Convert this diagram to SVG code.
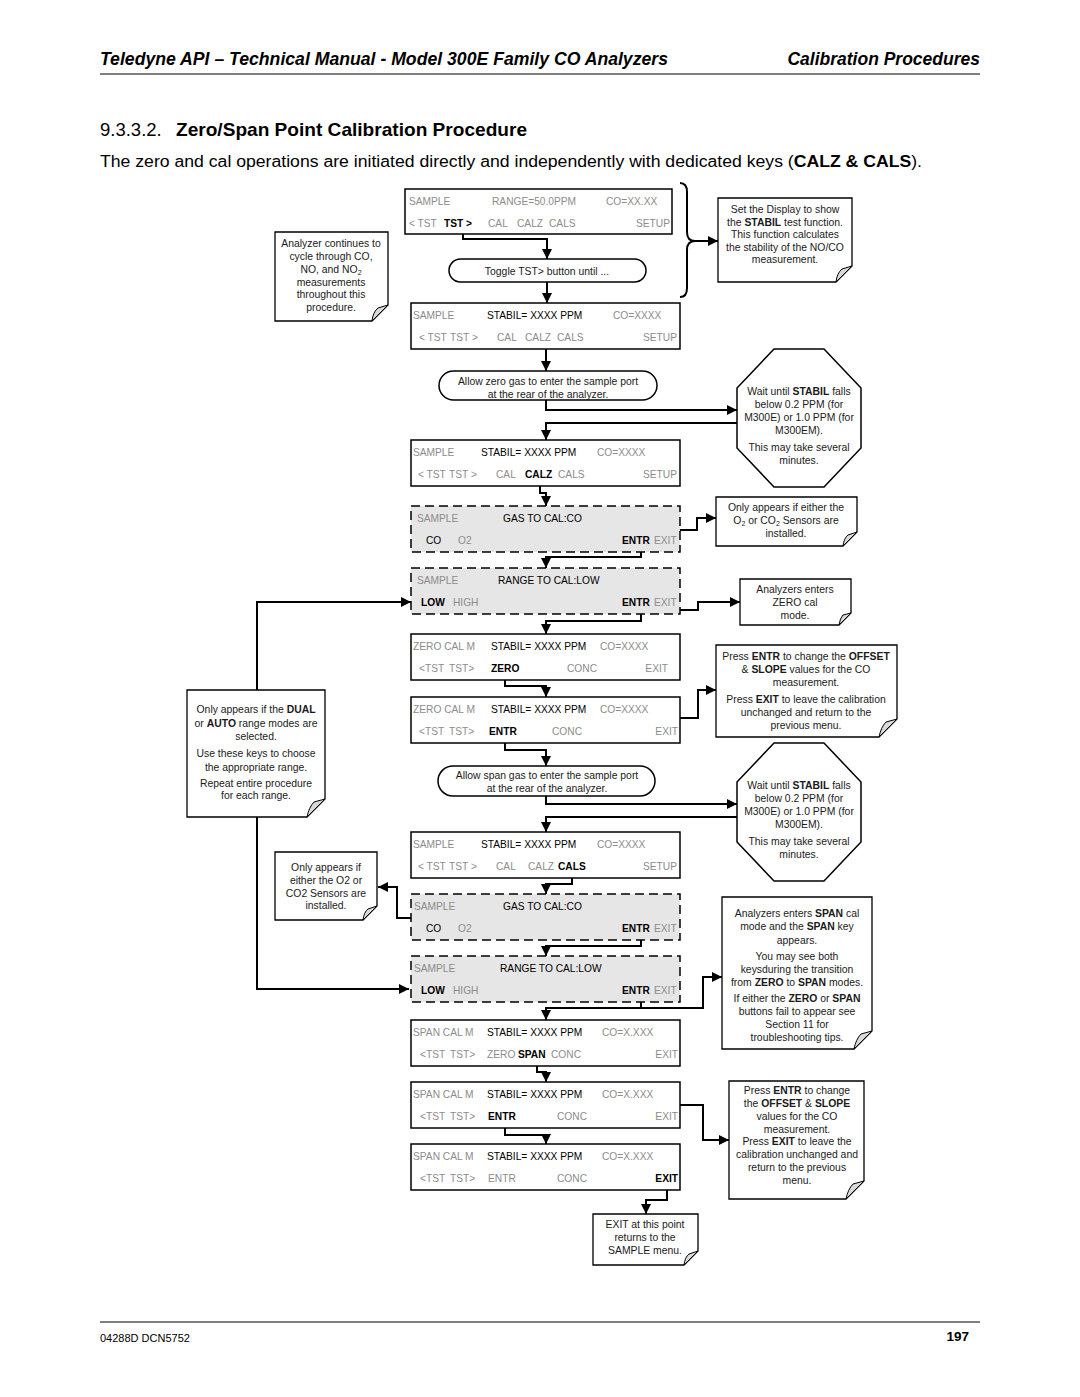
<svg xmlns="http://www.w3.org/2000/svg" width="1080" height="1397" viewBox="0 0 1080 1397">
<style>
text{font-family:"Liberation Sans",Arial,sans-serif;fill:#000}
.d{font-size:10.2px}
.g{fill:#8c8c8c}
.b{font-weight:bold}
.n{font-size:10.4px;text-anchor:middle;fill:#1a1a1a}
.e{text-anchor:end}
.bx{fill:#fff;stroke:#000;stroke-width:1.5}
.db{fill:#e6e6e6;stroke:#000;stroke-width:1.5;stroke-dasharray:9 5}
.nt{fill:#fff;stroke:#000;stroke-width:1.3}
.fd{fill:#d9d9d9;stroke:#000;stroke-width:1}
.c{fill:none;stroke:#000;stroke-width:2}
.a{fill:none;stroke:#000;stroke-width:2;marker-end:url(#ah)}
</style>
<defs>
<marker id="ah" viewBox="0 0 10 10" refX="10" refY="5" markerWidth="5" markerHeight="5" orient="auto" markerUnits="strokeWidth"><path d="M0,0 L10,5 L0,10 z" fill="#000"/></marker>
</defs>
<rect width="1080" height="1397" fill="#fff"/>

<g id="header">
<text x="100" y="65" font-size="17.5" font-weight="bold" font-style="italic" textLength="568" lengthAdjust="spacingAndGlyphs">Teledyne API – Technical Manual - Model 300E Family CO Analyzers</text>
<text x="980" y="65" font-size="17.5" font-weight="bold" font-style="italic" text-anchor="end">Calibration Procedures</text>
<line x1="100" y1="74" x2="980" y2="74" stroke="#000" stroke-width="1"/>
<text x="100" y="136" font-size="18.5">9.3.3.2.</text>
<text x="176" y="136" font-size="18.5" font-weight="bold" textLength="351" lengthAdjust="spacingAndGlyphs">Zero/Span Point Calibration Procedure</text>
<text x="100" y="167" font-size="16" textLength="822" lengthAdjust="spacingAndGlyphs">The zero and cal operations are initiated directly and independently with dedicated keys (<tspan font-weight="bold">CALZ &amp; CALS</tspan>).</text>
</g>

<g id="connectors">
<path class="a" d="M463,234 V239 H547 V259"/>
<path class="a" d="M547,282 V303"/>
<path class="a" d="M546,349 V371"/>
<path class="a" d="M546,400 V410 H737"/>
<path class="a" d="M737,423 H546 V440"/>
<path class="a" d="M540,486 V493 H546 V506"/>
<path class="a" d="M680,530 H697 V518 H716"/>
<path class="a" d="M641,552 V557 H546 V568"/>
<path class="a" d="M257,690 V602 H411"/>
<path class="a" d="M680,610 H698 V602 H740"/>
<path class="a" d="M641,614 V621 H546 V634"/>
<path class="a" d="M505,680 V686 H546 V697"/>
<path class="a" d="M680,718 H698 V690 H716"/>
<path class="a" d="M505,743 V750 H546 V766"/>
<path class="a" d="M546,796 V804 H737"/>
<path class="a" d="M737,817 H546 V832"/>
<path class="a" d="M572,878 V884 H546 V894"/>
<path class="a" d="M411,918 H397 V887 H378"/>
<path class="a" d="M641,940 V946 H546 V956"/>
<path class="a" d="M257,817 V989 H409"/>
<path class="a" d="M641,1002 V1008 H546 V1020"/>
<path class="a" d="M641,1008 H703 V977 H722"/>
<path class="a" d="M537,1066 V1072 H546 V1082"/>
<path class="a" d="M680,1105 H703 V1140 H729"/>
<path class="a" d="M505,1128 V1135 H546 V1144"/>
<path class="a" d="M667,1190 V1200 H646 V1214"/>
<path class="c" d="M680,183 Q687,183 687,192 V232 Q687,241 695,241 Q687,241 687,250 V288 Q687,297 680,297"/>
<path class="a" d="M695,241 H718"/>
</g>

<g id="box1">
<rect class="bx" x="405" y="189" width="267" height="45"/>
<text class="d g" x="409" y="205">SAMPLE</text>
<text class="d g" x="492" y="205">RANGE=50.0PPM</text>
<text class="d g" x="606" y="205">CO=XX.XX</text>
<text class="d g" x="409" y="227">&lt; TST</text>
<text class="d b" x="444" y="227">TST &gt;</text>
<text class="d g" x="488" y="227">CAL</text>
<text class="d g" x="517" y="227">CALZ</text>
<text class="d g" x="549" y="227">CALS</text>
<text class="d g e" x="670" y="227">SETUP</text>
</g>

<g id="oval1">
<rect class="bx" x="449" y="259" width="197" height="23" rx="11.5"/>
<text class="n" x="547" y="275">Toggle TST&gt; button until ...</text>
</g>

<g id="box2">
<rect class="bx" x="411" y="303" width="269" height="46"/>
<text class="d g" x="413" y="319">SAMPLE</text>
<text class="d" x="487" y="319">STABIL= XXXX PPM</text>
<text class="d g" x="613" y="319">CO=XXXX</text>
<text class="d g" x="419" y="341">&lt; TST</text>
<text class="d g" x="450" y="341">TST &gt;</text>
<text class="d g" x="497" y="341">CAL</text>
<text class="d g" x="525" y="341">CALZ</text>
<text class="d g" x="557" y="341">CALS</text>
<text class="d g e" x="677" y="341">SETUP</text>
</g>

<g id="oval2">
<rect class="bx" x="439" y="371" width="218" height="29" rx="14.5"/>
<text class="n" x="548" y="385">Allow zero gas to enter the sample port</text>
<text class="n" x="548" y="398">at the rear of the analyzer.</text>
</g>

<g id="octagon1">
<polygon class="bx" points="774,349 824,349 861,388 861,448 824,487 774,487 737,448 737,388"/>
<text class="n" x="799" y="395">Wait until <tspan class="b">STABIL</tspan> falls</text>
<text class="n" x="799" y="408">below 0.2 PPM (for</text>
<text class="n" x="799" y="421">M300E) or 1.0 PPM (for</text>
<text class="n" x="799" y="434">M300EM).</text>
<text class="n" x="799" y="451">This may take several</text>
<text class="n" x="799" y="464">minutes.</text>
</g>

<g id="box3">
<rect class="bx" x="411" y="440" width="269" height="46"/>
<text class="d g" x="413" y="456">SAMPLE</text>
<text class="d" x="481" y="456">STABIL= XXXX PPM</text>
<text class="d g" x="597" y="456">CO=XXXX</text>
<text class="d g" x="418" y="478">&lt; TST</text>
<text class="d g" x="449" y="478">TST &gt;</text>
<text class="d g" x="496" y="478">CAL</text>
<text class="d b" x="525" y="478">CALZ</text>
<text class="d g" x="558" y="478">CALS</text>
<text class="d g e" x="677" y="478">SETUP</text>
</g>

<g id="box4">
<rect class="db" x="411" y="506" width="269" height="46"/>
<text class="d g" x="417" y="522">SAMPLE</text>
<text class="d" x="503" y="522">GAS TO CAL:CO</text>
<text class="d" x="426" y="544">CO</text>
<text class="d g" x="458" y="544">O2</text>
<text class="d b" x="622" y="544">ENTR</text>
<text class="d g" x="654" y="544">EXIT</text>
</g>

<g id="box5">
<rect class="db" x="411" y="568" width="269" height="46"/>
<text class="d g" x="417" y="584">SAMPLE</text>
<text class="d" x="498" y="584">RANGE TO CAL:LOW</text>
<text class="d b" x="421" y="606">LOW</text>
<text class="d g" x="453" y="606">HIGH</text>
<text class="d b" x="622" y="606">ENTR</text>
<text class="d g" x="654" y="606">EXIT</text>
</g>

<g id="box6">
<rect class="bx" x="411" y="634" width="269" height="46"/>
<text class="d g" x="413" y="650">ZERO CAL M</text>
<text class="d" x="491" y="650">STABIL= XXXX PPM</text>
<text class="d g" x="600" y="650">CO=XXXX</text>
<text class="d g" x="419" y="672">&lt;TST</text>
<text class="d g" x="449" y="672">TST&gt;</text>
<text class="d b" x="491" y="672">ZERO</text>
<text class="d g" x="567" y="672">CONC</text>
<text class="d g e" x="668" y="672">EXIT</text>
</g>

<g id="box7">
<rect class="bx" x="411" y="697" width="269" height="46"/>
<text class="d g" x="413" y="713">ZERO CAL M</text>
<text class="d" x="491" y="713">STABIL= XXXX PPM</text>
<text class="d g" x="600" y="713">CO=XXXX</text>
<text class="d g" x="419" y="735">&lt;TST</text>
<text class="d g" x="449" y="735">TST&gt;</text>
<text class="d b" x="489" y="735">ENTR</text>
<text class="d g" x="552" y="735">CONC</text>
<text class="d g e" x="678" y="735">EXIT</text>
</g>

<g id="oval3">
<rect class="bx" x="438" y="766" width="217" height="30" rx="15"/>
<text class="n" x="547" y="779">Allow span gas to enter the sample port</text>
<text class="n" x="547" y="792">at the rear of the analyzer.</text>
</g>

<g id="octagon2">
<polygon class="bx" points="774,743 824,743 861,782 861,842 824,881 774,881 737,842 737,782"/>
<text class="n" x="799" y="789">Wait until <tspan class="b">STABIL</tspan> falls</text>
<text class="n" x="799" y="802">below 0.2 PPM (for</text>
<text class="n" x="799" y="815">M300E) or 1.0 PPM (for</text>
<text class="n" x="799" y="828">M300EM).</text>
<text class="n" x="799" y="845">This may take several</text>
<text class="n" x="799" y="858">minutes.</text>
</g>

<g id="box8">
<rect class="bx" x="411" y="832" width="269" height="46"/>
<text class="d g" x="413" y="848">SAMPLE</text>
<text class="d" x="481" y="848">STABIL= XXXX PPM</text>
<text class="d g" x="597" y="848">CO=XXXX</text>
<text class="d g" x="418" y="870">&lt; TST</text>
<text class="d g" x="449" y="870">TST &gt;</text>
<text class="d g" x="496" y="870">CAL</text>
<text class="d g" x="528" y="870">CALZ</text>
<text class="d b" x="558" y="870">CALS</text>
<text class="d g e" x="677" y="870">SETUP</text>
</g>

<g id="box9">
<rect class="db" x="411" y="894" width="269" height="46"/>
<text class="d g" x="414" y="910">SAMPLE</text>
<text class="d" x="503" y="910">GAS TO CAL:CO</text>
<text class="d" x="426" y="932">CO</text>
<text class="d g" x="458" y="932">O2</text>
<text class="d b" x="622" y="932">ENTR</text>
<text class="d g" x="654" y="932">EXIT</text>
</g>

<g id="box10">
<rect class="db" x="411" y="956" width="269" height="46"/>
<text class="d g" x="414" y="972">SAMPLE</text>
<text class="d" x="500" y="972">RANGE TO CAL:LOW</text>
<text class="d b" x="421" y="994">LOW</text>
<text class="d g" x="453" y="994">HIGH</text>
<text class="d b" x="622" y="994">ENTR</text>
<text class="d g" x="654" y="994">EXIT</text>
</g>

<g id="box11">
<rect class="bx" x="411" y="1020" width="269" height="46"/>
<text class="d g" x="413" y="1036">SPAN CAL M</text>
<text class="d" x="487" y="1036">STABIL= XXXX PPM</text>
<text class="d g" x="602" y="1036">CO=X.XXX</text>
<text class="d g" x="420" y="1058">&lt;TST</text>
<text class="d g" x="450" y="1058">TST&gt;</text>
<text class="d g" x="487" y="1058">ZERO</text>
<text class="d b" x="518" y="1058">SPAN</text>
<text class="d g" x="551" y="1058">CONC</text>
<text class="d g e" x="678" y="1058">EXIT</text>
</g>

<g id="box12">
<rect class="bx" x="411" y="1082" width="269" height="46"/>
<text class="d g" x="413" y="1098">SPAN CAL M</text>
<text class="d" x="487" y="1098">STABIL= XXXX PPM</text>
<text class="d g" x="602" y="1098">CO=X.XXX</text>
<text class="d g" x="420" y="1120">&lt;TST</text>
<text class="d g" x="450" y="1120">TST&gt;</text>
<text class="d b" x="488" y="1120">ENTR</text>
<text class="d g" x="557" y="1120">CONC</text>
<text class="d g e" x="678" y="1120">EXIT</text>
</g>

<g id="box13">
<rect class="bx" x="411" y="1144" width="269" height="46"/>
<text class="d g" x="413" y="1160">SPAN CAL M</text>
<text class="d" x="487" y="1160">STABIL= XXXX PPM</text>
<text class="d g" x="602" y="1160">CO=X.XXX</text>
<text class="d g" x="420" y="1182">&lt;TST</text>
<text class="d g" x="450" y="1182">TST&gt;</text>
<text class="d g" x="488" y="1182">ENTR</text>
<text class="d g" x="557" y="1182">CONC</text>
<text class="d b e" x="678" y="1182">EXIT</text>
</g>

<g id="noteA">
<path class="nt" d="M275,232 H388 V305 L372,321 H275 Z"/>
<path class="fd" d="M388,305 L378,308 Q373,312 372,321 Z"/>
<text class="n" x="331" y="247">Analyzer continues to</text>
<text class="n" x="331" y="260">cycle through CO,</text>
<text class="n" x="331" y="273">NO, and NO<tspan font-size="7" dy="2">2</tspan></text>
<text class="n" x="331" y="286">measurements</text>
<text class="n" x="331" y="298">throughout this</text>
<text class="n" x="331" y="311">procedure.</text>
</g>

<g id="noteB">
<path class="nt" d="M718,198 H852 V266 L836,282 H718 Z"/>
<path class="fd" d="M852,266 L842,269 Q837,273 836,282 Z"/>
<text class="n" x="785" y="213">Set the Display to show</text>
<text class="n" x="785" y="226">the <tspan class="b">STABIL</tspan> test function.</text>
<text class="n" x="785" y="238">This function calculates</text>
<text class="n" x="785" y="251">the stability of the NO/CO</text>
<text class="n" x="785" y="263">measurement.</text>
</g>

<g id="noteC">
<path class="nt" d="M716,497 H857 V532 L843,546 H716 Z"/>
<path class="fd" d="M857,532 L848,535 Q844,538 843,546 Z"/>
<text class="n" x="786" y="511">Only appears if either the</text>
<text class="n" x="786" y="524">O<tspan font-size="7" dy="2">2</tspan><tspan dy="-2"> or CO</tspan><tspan font-size="7" dy="2">2</tspan><tspan dy="-2"> Sensors are</tspan></text>
<text class="n" x="786" y="537">installed.</text>
</g>

<g id="noteD">
<path class="nt" d="M740,579 H851 V613 L839,625 H740 Z"/>
<path class="fd" d="M851,613 L843,615 Q840,618 839,625 Z"/>
<text class="n" x="795" y="593">Analyzers enters</text>
<text class="n" x="795" y="606">ZERO cal</text>
<text class="n" x="795" y="619">mode.</text>
</g>

<g id="noteE">
<path class="nt" d="M716,645 H897 V719 L879,737 H716 Z"/>
<path class="fd" d="M897,719 L886,722 Q881,727 879,737 Z"/>
<text class="n" x="806" y="660">Press <tspan class="b">ENTR</tspan> to change the <tspan class="b">OFFSET</tspan></text>
<text class="n" x="806" y="673">&amp; <tspan class="b">SLOPE</tspan> values for the CO</text>
<text class="n" x="806" y="686">measurement.</text>
<text class="n" x="806" y="703">Press <tspan class="b">EXIT</tspan> to leave the calibration</text>
<text class="n" x="806" y="716">unchanged and return to the</text>
<text class="n" x="806" y="729">previous menu.</text>
</g>

<g id="noteF">
<path class="nt" d="M187,690 H325 V799 L307,817 H187 Z"/>
<path class="fd" d="M325,799 L314,802 Q309,807 307,817 Z"/>
<text class="n" x="256" y="713">Only appears if the <tspan class="b">DUAL</tspan></text>
<text class="n" x="256" y="727">or <tspan class="b">AUTO</tspan> range modes are</text>
<text class="n" x="256" y="740">selected.</text>
<text class="n" x="256" y="757">Use these keys to choose</text>
<text class="n" x="256" y="771">the appropriate range.</text>
<text class="n" x="256" y="787">Repeat entire procedure</text>
<text class="n" x="256" y="799">for each range.</text>
</g>

<g id="noteG">
<path class="nt" d="M275,852 H377 V906 L363,920 H275 Z"/>
<path class="fd" d="M377,906 L368,909 Q364,912 363,920 Z"/>
<text class="n" x="326" y="871">Only appears if</text>
<text class="n" x="326" y="884">either the O2 or</text>
<text class="n" x="326" y="897">CO2 Sensors are</text>
<text class="n" x="326" y="909">installed.</text>
</g>

<g id="noteH">
<path class="nt" d="M722,897 H872 V1031 L854,1049 H722 Z"/>
<path class="fd" d="M872,1031 L861,1034 Q856,1039 854,1049 Z"/>
<text class="n" x="797" y="917">Analyzers enters <tspan class="b">SPAN</tspan> cal</text>
<text class="n" x="797" y="930">mode and the <tspan class="b">SPAN</tspan> key</text>
<text class="n" x="797" y="944">appears.</text>
<text class="n" x="797" y="960">You may see both</text>
<text class="n" x="797" y="973">keysduring the transition</text>
<text class="n" x="797" y="986">from <tspan class="b">ZERO</tspan> to <tspan class="b">SPAN</tspan> modes.</text>
<text class="n" x="797" y="1002">If either the <tspan class="b">ZERO</tspan> or <tspan class="b">SPAN</tspan></text>
<text class="n" x="797" y="1015">buttons fail to appear see</text>
<text class="n" x="797" y="1028">Section 11 for</text>
<text class="n" x="797" y="1041">troubleshooting tips.</text>
</g>

<g id="noteI">
<path class="nt" d="M729,1081 H864 V1181 L846,1199 H729 Z"/>
<path class="fd" d="M864,1181 L853,1184 Q848,1189 846,1199 Z"/>
<text class="n" x="797" y="1094">Press <tspan class="b">ENTR</tspan> to change</text>
<text class="n" x="797" y="1107">the <tspan class="b">OFFSET</tspan> &amp; <tspan class="b">SLOPE</tspan></text>
<text class="n" x="797" y="1120">values for the CO</text>
<text class="n" x="797" y="1133">measurement.</text>
<text class="n" x="797" y="1145">Press <tspan class="b">EXIT</tspan> to leave the</text>
<text class="n" x="797" y="1158">calibration unchanged and</text>
<text class="n" x="797" y="1171">return to the previous</text>
<text class="n" x="797" y="1184">menu.</text>
</g>

<g id="noteJ">
<path class="nt" d="M593,1214 H698 V1251 L684,1265 H593 Z"/>
<path class="fd" d="M698,1251 L689,1254 Q685,1257 684,1265 Z"/>
<text class="n" x="645" y="1228">EXIT at this point</text>
<text class="n" x="645" y="1241">returns to the</text>
<text class="n" x="645" y="1254">SAMPLE menu.</text>
</g>

<g id="footer">
<line x1="100" y1="1322" x2="980" y2="1322" stroke="#000" stroke-width="1"/>
<text x="100" y="1342" font-size="11">04288D DCN5752</text>
<text x="969" y="1341" font-size="13.5" font-weight="bold" text-anchor="end">197</text>
</g>
</svg>
